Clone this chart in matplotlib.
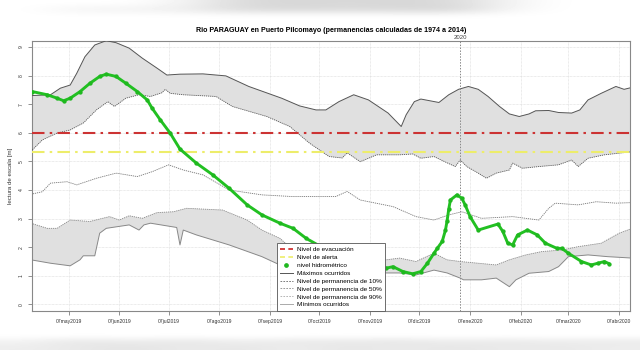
import numpy as np
import pandas as pd
import matplotlib
matplotlib.use("Agg")
import matplotlib.pyplot as plt
import matplotlib.dates as mdates
from matplotlib.lines import Line2D

plt.rcParams['font.family'] = ['Liberation Sans', 'DejaVu Sans']

# niveles de referencia [m]
nivel_evacuacion = 6.0
nivel_alerta = 5.33

# máximos ocurridos
fechas_max = ["2019-04-14", "2019-04-26", "2019-05-02", "2019-05-08", "2019-05-12", "2019-05-17",
              "2019-05-23", "2019-05-30", "2019-06-05", "2019-06-13", "2019-06-21", "2019-06-30",
              "2019-07-06", "2019-07-14", "2019-07-28", "2019-08-11", "2019-08-25", "2019-09-14",
              "2019-09-25", "2019-10-05", "2019-10-11", "2019-10-19", "2019-10-28", "2019-11-06",
              "2019-11-18", "2019-11-26", "2019-11-29", "2019-12-04", "2019-12-08", "2019-12-19",
              "2019-12-25", "2019-12-31", "2020-01-06", "2020-01-12", "2020-01-18", "2020-01-25",
              "2020-01-31", "2020-02-06", "2020-02-12", "2020-02-16", "2020-02-24", "2020-03-01",
              "2020-03-09", "2020-03-14", "2020-03-19", "2020-03-27", "2020-04-05", "2020-04-10",
              "2020-04-15"]
maximos = [7.30, 7.33, 7.56, 7.67, 8.08, 8.66,
           9.07, 9.22, 9.15, 8.96, 8.61, 8.26,
           8.02, 8.05, 8.06, 7.99, 7.62, 7.21,
           6.94, 6.80, 6.80, 7.09, 7.33, 7.15,
           6.69, 6.22, 6.63, 7.09, 7.18, 7.06,
           7.33, 7.52, 7.62, 7.52, 7.27, 6.92,
           6.66, 6.57, 6.66, 6.77, 6.78, 6.71,
           6.69, 6.80, 7.15, 7.38, 7.62, 7.52,
           7.59]

# permanencia 10%
fechas_p10 = ["2019-04-14", "2019-04-21", "2019-04-30", "2019-05-08", "2019-05-16", "2019-05-24",
              "2019-05-31", "2019-06-04", "2019-06-11", "2019-06-19", "2019-06-26", "2019-07-03",
              "2019-07-05", "2019-07-08", "2019-07-16", "2019-08-05", "2019-08-15", "2019-09-05",
              "2019-09-19", "2019-10-01", "2019-10-13", "2019-10-21", "2019-10-24", "2019-11-01",
              "2019-11-11", "2019-11-25", "2019-12-03", "2019-12-08", "2019-12-16", "2019-12-24",
              "2019-12-29", "2020-01-01", "2020-01-05", "2020-01-12", "2020-01-17", "2020-01-23",
              "2020-01-31", "2020-02-02", "2020-02-08", "2020-02-18", "2020-03-01", "2020-03-09",
              "2020-03-13", "2020-03-19", "2020-03-29", "2020-04-15"]
perm_10 = [5.35, 5.75, 5.99, 6.10, 6.34, 6.80,
           7.09, 6.92, 7.21, 7.33, 7.27, 7.40,
           7.52, 7.38, 7.33, 7.27, 6.92, 6.57,
           6.22, 5.64, 5.17, 5.12, 5.30, 4.99,
           5.23, 5.23, 5.26, 5.11, 5.17, 4.95,
           4.82, 5.05, 4.82, 4.59, 4.41, 4.59,
           4.70, 4.94, 4.76, 4.82, 4.88, 5.05,
           4.82, 5.11, 5.23, 5.34]

# permanencia 50%
fechas_p50 = ["2019-04-14", "2019-04-21", "2019-04-26", "2019-05-06", "2019-05-12", "2019-05-24",
              "2019-06-05", "2019-06-18", "2019-06-27", "2019-07-07", "2019-07-16", "2019-07-28",
              "2019-08-13", "2019-09-02", "2019-09-21", "2019-10-17", "2019-10-24", "2019-11-01",
              "2019-11-21", "2019-12-05", "2019-12-16", "2019-12-25", "2020-01-02", "2020-01-14",
              "2020-02-02", "2020-02-18", "2020-02-24", "2020-02-28", "2020-03-13", "2020-03-24",
              "2020-04-05", "2020-04-15"]
perm_50 = [3.85, 3.94, 4.24, 4.29, 4.18, 4.41,
           4.59, 4.47, 4.64, 4.88, 4.70, 4.53,
           4.00, 3.83, 3.77, 3.77, 3.95, 3.65,
           3.42, 3.07, 2.95, 3.13, 3.24, 3.01,
           3.07, 2.95, 3.36, 3.54, 3.48, 3.59,
           3.54, 3.56]

# permanencia 90%
fechas_p90 = ["2019-04-14", "2019-04-24", "2019-04-30", "2019-05-08", "2019-05-20", "2019-06-01",
              "2019-06-07", "2019-06-13", "2019-06-21", "2019-06-30", "2019-07-10", "2019-07-18",
              "2019-08-09", "2019-08-24", "2019-09-02", "2019-09-13", "2019-09-21", "2019-10-01",
              "2019-10-13", "2019-10-25", "2019-11-07", "2019-11-17", "2019-11-25", "2019-12-05",
              "2019-12-16", "2019-12-24", "2020-01-01", "2020-01-12", "2020-01-23", "2020-01-31",
              "2020-02-10", "2020-02-20", "2020-03-03", "2020-03-13", "2020-03-27", "2020-04-07",
              "2020-04-15"]
perm_90 = [2.84, 2.66, 2.66, 2.95, 2.90, 3.07,
           2.95, 3.10, 3.01, 3.21, 3.24, 3.36,
           3.30, 2.95, 2.60, 2.31, 1.90, 1.75,
           1.65, 1.60, 1.55, 1.56, 1.62, 1.50,
           1.79, 1.56, 1.50, 1.44, 1.38, 1.56,
           1.73, 1.85, 1.90, 2.02, 2.14, 2.49,
           2.66]

# mínimos ocurridos
fechas_min = ["2019-04-14", "2019-04-26", "2019-05-08", "2019-05-14", "2019-05-16", "2019-05-23",
              "2019-05-26", "2019-05-30", "2019-06-13", "2019-06-19", "2019-06-22", "2019-06-26",
              "2019-07-12", "2019-07-14", "2019-07-16", "2019-07-24", "2019-08-13", "2019-09-02",
              "2019-09-13", "2019-09-25", "2019-10-13", "2019-11-01", "2019-11-17", "2019-11-25",
              "2019-12-05", "2019-12-16", "2019-12-24", "2020-01-01", "2020-01-03", "2020-01-14",
              "2020-01-23", "2020-01-31", "2020-02-04", "2020-02-12", "2020-02-24", "2020-03-01",
              "2020-03-07", "2020-03-19", "2020-03-31", "2020-04-15"]
minimos = [1.56, 1.44, 1.35, 1.56, 1.70, 1.70,
           2.49, 2.66, 2.78, 2.60, 2.78, 2.84,
           2.69, 2.08, 2.60, 2.43, 2.08, 1.67,
           1.38, 1.25, 1.15, 1.10, 1.10, 1.10,
           1.03, 1.20, 1.10, 0.92, 0.86, 0.86,
           0.92, 0.62, 0.86, 1.09, 1.15, 1.32,
           1.67, 1.73, 1.67, 1.62]

# nivel hidrométrico observado
fechas_obs = ["2019-04-15", "2019-04-24", "2019-04-30", "2019-05-04", "2019-05-08", "2019-05-14",
              "2019-05-20", "2019-05-26", "2019-05-30", "2019-06-05", "2019-06-11", "2019-06-18",
              "2019-06-24", "2019-06-27", "2019-07-02", "2019-07-08", "2019-07-14", "2019-07-24",
              "2019-08-03", "2019-08-13", "2019-08-24", "2019-09-02", "2019-09-13", "2019-09-21",
              "2019-09-29", "2019-10-07", "2019-10-19", "2019-11-01", "2019-11-10", "2019-11-17",
              "2019-11-21", "2019-11-27", "2019-12-03", "2019-12-08", "2019-12-12", "2019-12-16",
              "2019-12-18", "2019-12-21", "2019-12-23", "2019-12-24", "2019-12-25", "2019-12-26",
              "2019-12-30", "2020-01-02", "2020-01-04", "2020-01-07", "2020-01-12", "2020-01-24",
              "2020-01-27", "2020-01-30", "2020-02-02", "2020-02-05", "2020-02-11", "2020-02-17",
              "2020-02-22", "2020-02-29", "2020-03-03", "2020-03-07", "2020-03-15", "2020-03-21",
              "2020-03-25", "2020-03-29", "2020-04-01"]
nivel_obs = [7.44, 7.33, 7.21, 7.12, 7.21, 7.44,
             7.73, 7.97, 8.05, 7.97, 7.73, 7.44,
             7.15, 6.86, 6.45, 5.99, 5.43, 4.94,
             4.53, 4.06, 3.48, 3.13, 2.84, 2.66,
             2.31, 2.05, 1.80, 1.55, 1.38, 1.27,
             1.32, 1.15, 1.07, 1.15, 1.44, 1.79,
             1.96, 2.20, 2.60, 2.93, 3.33, 3.65,
             3.83, 3.71, 3.48, 3.07, 2.60, 2.81,
             2.55, 2.14, 2.08, 2.43, 2.60, 2.43,
             2.14, 1.96, 1.96, 1.79, 1.50, 1.38,
             1.44, 1.50, 1.42]

ticks_fechas = ["2019-05-07", "2019-06-07", "2019-07-07", "2019-08-07", "2019-09-07", "2019-10-07",
                "2019-11-07", "2019-12-07", "2020-01-07", "2020-02-07", "2020-03-07", "2020-04-07"]
ticks_etiquetas = ["07may2019", "07jun2019", "07jul2019", "07ago2019", "07sep2019", "07oct2019",
                   "07nov2019", "07dic2019", "07ene2020", "07feb2020", "07mar2020", "07abr2020"]

inicio_anio = "2020-01-01"

d = lambda lista: pd.to_datetime(lista)

fig = plt.figure(figsize=(6.4, 3.5), dpi=100)
fig.patch.set_facecolor('white')

# franjas difusas arriba y abajo
banda_sup = fig.add_axes([0, 1 - 19 / 350, 1, 19 / 350])
perfil_sup = np.array([[1.0, 1.0, 1.0, 0.95, 0.86, 0.84, 0.85, 0.84, 0.86, 0.95, 1.0, 1.0],
                       [1.0, 0.95, 0.95, 0.93, 0.86, 0.85, 0.86, 0.85, 0.84, 0.96, 1.0, 1.0],
                       [1.0, 1.0, 1.0, 1.0, 1.0, 1.0, 1.0, 1.0, 1.0, 1.0, 1.0, 1.0]])
banda_sup.imshow(perfil_sup, cmap='gray', vmin=0, vmax=1, aspect='auto', interpolation='bicubic')
banda_sup.axis('off')

banda_inf = fig.add_axes([0, 0, 1, 17 / 350])
perfil_inf = np.array([[1.0, 1.0, 1.0, 1.0, 1.0, 1.0, 1.0, 1.0, 1.0, 1.0, 1.0, 1.0],
                       [0.95, 0.90, 0.93, 0.90, 0.94, 0.91, 0.92, 0.90, 0.93, 0.91, 0.93, 0.92],
                       [0.93, 0.91, 0.89, 0.92, 0.90, 0.93, 0.90, 0.92, 0.90, 0.92, 0.91, 0.93]])
banda_inf.imshow(perfil_inf, cmap='gray', vmin=0, vmax=1, aspect='auto', interpolation='bicubic')
banda_inf.axis('off')

ax = fig.add_axes([32 / 640, 39 / 350, 598 / 640, 270.3 / 350])

gris_banda = '#e0e0e0'
ax.fill(np.concatenate([d(fechas_max), d(fechas_p10)[::-1]]),
        np.concatenate([maximos, perm_10[::-1]]), color=gris_banda, lw=0, zorder=1)
ax.fill(np.concatenate([d(fechas_p90), d(fechas_min)[::-1]]),
        np.concatenate([perm_90, minimos[::-1]]), color=gris_banda, lw=0, zorder=1)

ax.plot(d(fechas_max), maximos, color='#555555', lw=0.7, zorder=3)
ax.plot(d(fechas_p10), perm_10, color='#555555', lw=0.6, ls=(0, (1.5, 1)), zorder=3)
ax.plot(d(fechas_p50), perm_50, color='#777777', lw=0.6, ls=(0, (1.5, 1)), zorder=3)
ax.plot(d(fechas_p90), perm_90, color='#888888', lw=0.6, ls=(0, (1.5, 1)), zorder=3)
ax.plot(d(fechas_min), minimos, color='#888888', lw=0.7, zorder=3)

ax.axhline(nivel_evacuacion, color='#cc3333', lw=1.5, ls=(0, (6, 2.5, 1.2, 2.5)), zorder=4)
ax.axhline(nivel_alerta, color='#eded6a', lw=1.5, ls=(0, (6, 2.5, 1.2, 2.5)), zorder=4)

ax.plot(d(fechas_obs), nivel_obs, color='#22c022', lw=2.1, zorder=5, solid_capstyle='round')
ax.plot(d(fechas_obs), nivel_obs, ls='none', marker='o', ms=2.1, color='#1fb81f', zorder=6)

x_anio = d([inicio_anio])[0]
ax.axvline(x_anio, color='#888888', lw=0.7, ls=(0, (1.5, 1.5)), zorder=4)
ax.text(x_anio, 1.004, "2020", transform=ax.get_xaxis_transform(), ha='center', va='bottom',
        fontsize=4.3, color='#444444')

t0 = mdates.date2num(pd.Timestamp("2019-05-07"))
ax.set_xlim(t0 - 22.3, t0 + 342.6)
ax.set_ylim(-0.23, 9.22)

ax.set_xticks(d(ticks_fechas))
ax.set_xticklabels(ticks_etiquetas, fontsize=3.6, color='#333333')
ax.set_yticks(range(10))
ax.set_yticklabels([str(i) for i in range(10)], fontsize=3.6, rotation=90, va='center', color='#333333')
ax.tick_params(axis='both', length=3, width=0.5, color='#666666', pad=3)
ax.grid(True, color='#d8d8d8', lw=0.5, ls=(0, (1, 1)), zorder=0)
ax.set_axisbelow(True)
for s in ax.spines.values():
    s.set_color('#888888')
    s.set_linewidth(0.8)

ax.set_ylabel("lectura de escala [m]", fontsize=4.4, color='#333333', labelpad=4)
ax.set_title("Rio PARAGUAY en Puerto Pilcomayo (permanencias calculadas de 1974 a 2014)",
             fontsize=5.1, fontweight='bold', pad=6)

manijas = [
    Line2D([], [], color='#cc2222', lw=1.2, ls=(0, (3, 2))),
    Line2D([], [], color='#eded6a', lw=1.2, ls=(0, (3, 2))),
    Line2D([], [], color='#1fb81f', ls='none', marker='o', ms=2.4),
    Line2D([], [], color='#555555', lw=0.7),
    Line2D([], [], color='#666666', lw=0.6, ls=(0, (2, 1.5))),
    Line2D([], [], color='#888888', lw=0.6, ls=(0, (2, 1.5))),
    Line2D([], [], color='#aaaaaa', lw=0.6, ls=(0, (2, 1.5))),
    Line2D([], [], color='#aaaaaa', lw=0.7),
]
etiquetas = ["Nivel de evacuación", "Nivel de alerta", "nivel hidrométrico", "Máximos ocurridos",
             "Nivel de permanencia de 10%", "Nivel de permanencia de 50%",
             "Nivel de permanencia de 90%", "Mínimos ocurridos"]
leg = ax.legend(manijas, etiquetas, loc='lower left', bbox_to_anchor=(0.409, 0.0), borderaxespad=0,
                fontsize=4.6, frameon=True, fancybox=False, framealpha=1, edgecolor='#555555',
                handlelength=2.0, handletextpad=0.6, labelspacing=0.38, borderpad=0.55)
leg.get_frame().set_linewidth(0.6)
leg.set_zorder(10)

fig.savefig("out.png", dpi=100)
